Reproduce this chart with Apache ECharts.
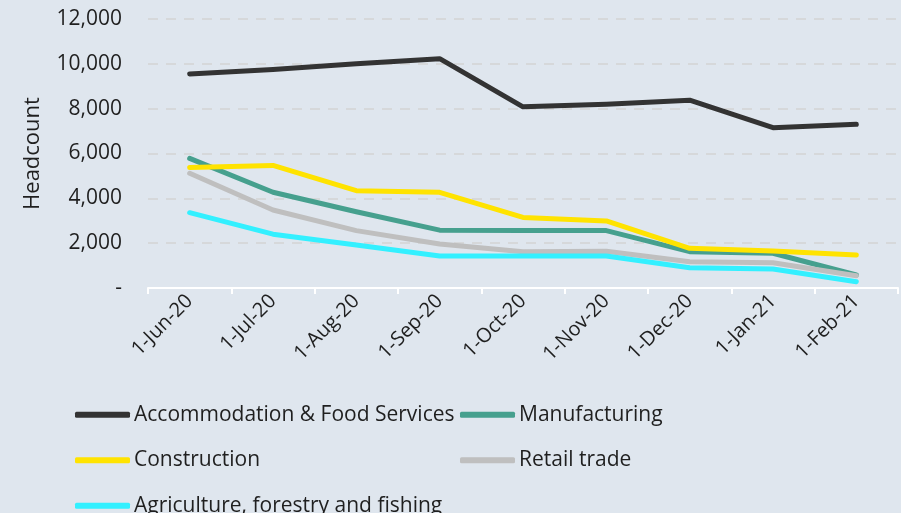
<!DOCTYPE html>
<html><head><meta charset="utf-8">
<script src="https://cdn.jsdelivr.net/npm/echarts@6/dist/echarts.min.js"></script>
<style>html,body{margin:0;padding:0;background:#dfe6ee;}#c{width:901px;height:513px;}</style>
</head><body><div id="c"></div>
<script>
const categories = ['1-Jun-20','1-Jul-20','1-Aug-20','1-Sep-20','1-Oct-20','1-Nov-20','1-Dec-20','1-Jan-21','1-Feb-21'];
const accommodation = [9550, 9750, 10000, 10230, 8080, 8200, 8380, 7150, 7300];
const manufacturing = [5780, 4270, 3400, 2580, 2560, 2560, 1620, 1550, 580];
const construction = [5370, 5470, 4340, 4270, 3150, 2990, 1770, 1650, 1470];
const retail = [5120, 3480, 2560, 1960, 1620, 1640, 1170, 1130, 550];
const agriculture = [3360, 2400, 1920, 1430, 1430, 1430, 900, 850, 280];
const yTicks = [0, 2000, 4000, 6000, 8000, 10000, 12000];

const seriesDefs = [
  {name:'Accommodation & Food Services', data:accommodation, color:'#333333'},
  {name:'Manufacturing', data:manufacturing, color:'#46a08e'},
  {name:'Construction', data:construction, color:'#ffe300'},
  {name:'Retail trade', data:retail, color:'#bfbfbf'},
  {name:'Agriculture, forestry and fishing', data:agriculture, color:'#33f0ff'}
];
const font = 'Open Sans';
const txt = '#1f1f1f';
const chart = echarts.init(document.getElementById('c'));
chart.setOption({
  backgroundColor:'#dfe6ee',
  animation:false,
  grid:{left:148, right:3, top:19, bottom:225, containLabel:false},
  xAxis:{type:'category', data:categories, boundaryGap:true,
    axisLine:{lineStyle:{color:'#ffffff', width:2}},
    axisTick:{show:true, length:6, lineStyle:{color:'#ffffff', width:2}},
    axisLabel:{rotate:45, color:txt, fontFamily:font, fontSize:20, margin:10}},
  yAxis:{type:'value', min:yTicks[0], max:yTicks[yTicks.length-1], interval:2000,
    name:'Headcount', nameLocation:'middle', nameGap:104, nameRotate:90,
    nameTextStyle:{color:txt, fontFamily:font, fontSize:22},
    axisLine:{show:false}, axisTick:{show:false},
    axisLabel:{color:txt, fontFamily:font, fontSize:21, margin:26,
      formatter:v=> v===0 ? '-' : v.toLocaleString('en-US')},
    splitLine:{lineStyle:{color:'#d3d3d3', width:1.5, type:[10,8]}}},
  legend:{left:75, top:392, width:820, padding:0, itemWidth:55, itemHeight:6, itemGap:0,
    icon:'roundRect',
    textStyle:{color:txt, fontFamily:font, fontSize:21, width:326, lineHeight:45.5, height:45.5, overflow:'none', padding:[0,0,0,-1]},
    data:seriesDefs.map(s=>({name:s.name, itemStyle:{color:s.color}}))},
  series:seriesDefs.map(s=>({name:s.name, type:'line', data:s.data, symbol:'none',
    lineStyle:{color:s.color, width:5, cap:'round', join:'round'}, itemStyle:{color:s.color}}))
});
</script></body></html>
